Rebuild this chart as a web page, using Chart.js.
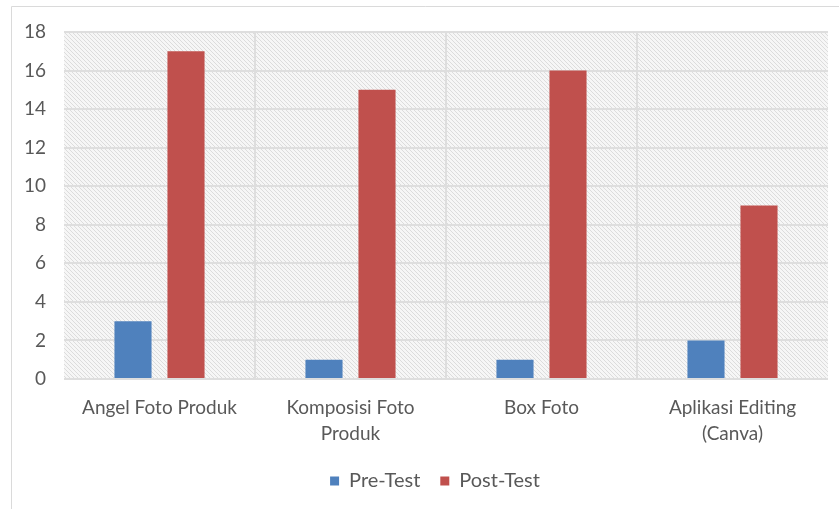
<!DOCTYPE html>
<html>
<head>
<meta charset="utf-8">
<script src="https://cdn.jsdelivr.net/npm/chart.js@4/dist/chart.umd.min.js"></script>
<style>
  html, body { margin: 0; padding: 0; background: #ffffff; }
  #wrap { width: 839px; height: 509px; position: relative; }
</style>
</head>
<body>
<div id="wrap"><canvas id="c" width="839" height="509"></canvas></div>
<script>
// Scores per topic, before and after the training
const categories = ['Angel Foto Produk', ['Komposisi Foto', 'Produk'], 'Box Foto', ['Aplikasi Editing', '(Canva)']];
const preTest = [3, 1, 1, 2];
const postTest = [17, 15, 16, 9];
const seriesNames = ['Pre-Test', 'Post-Test'];
const yTicks = { min: 0, max: 18, step: 2 };

const textColor = '#595959';
const fontFamily = 'Lato, "Open Sans", sans-serif';

// Fine diagonal hatch used as the plot-area fill
function makeHatch() {
  const t = document.createElement('canvas');
  t.width = 4; t.height = 4;
  const g = t.getContext('2d');
  g.fillStyle = '#f6f6f6';
  g.fillRect(0, 0, 4, 4);
  g.strokeStyle = '#dcdcdc';
  g.lineWidth = 1;
  g.beginPath();
  g.moveTo(-1, -1); g.lineTo(5, 5);
  g.moveTo(-1, 3); g.lineTo(1, 5);
  g.moveTo(3, -1); g.lineTo(5, 1);
  g.stroke();
  return g.createPattern(t, 'repeat');
}

const frame = {
  id: 'frame',
  afterLayout(chart) {
    // nudge the legend a little to the right of the canvas centre
    if (chart.legend) { chart.legend.left += 15; chart.legend.right += 15; }
  },
  beforeDraw(chart) {
    const ctx = chart.ctx;
    const a = chart.chartArea;
    ctx.save();
    ctx.fillStyle = '#ffffff';
    ctx.fillRect(0, 0, chart.width, chart.height);
    ctx.strokeStyle = '#dadada';
    ctx.lineWidth = 1;
    ctx.beginPath();
    ctx.moveTo(11.5, chart.height); ctx.lineTo(11.5, 6.5); ctx.lineTo(chart.width, 6.5);
    ctx.stroke();
    ctx.fillStyle = makeHatch();
    ctx.fillRect(a.left, a.top, a.right - a.left, a.bottom - a.top);
    ctx.restore();
  }
};

new Chart(document.getElementById('c'), {
  type: 'bar',
  data: {
    labels: categories,
    datasets: [
      { label: seriesNames[0], data: preTest, backgroundColor: '#4F81BD', categoryPercentage: 0.555, barPercentage: 0.7 },
      { label: seriesNames[1], data: postTest, backgroundColor: '#C0504D', categoryPercentage: 0.555, barPercentage: 0.7 }
    ]
  },
  options: {
    responsive: false,
    animation: false,
    devicePixelRatio: 1,
    layout: { padding: { top: 32, left: 12, right: 11, bottom: 8 } },
    plugins: {
      legend: {
        position: 'bottom',
        labels: {
          color: textColor,
          font: { family: fontFamily, size: 20 },
          boxWidth: 9, boxHeight: 9, padding: 20
        }
      },
      tooltip: { enabled: false }
    },
    scales: {
      x: {
        grid: {
          offset: true,
          drawTicks: false,
          // only the separators between categories, not the outer edges
          color: (c) => (c.type !== 'tick' || c.index === 0) ? 'rgba(0,0,0,0)' : '#dedede',
          lineWidth: 2
        },
        border: { display: false },
        ticks: {
          color: textColor,
          font: { family: fontFamily, size: 19, lineHeight: 1.35 },
          padding: 16,
          maxRotation: 0,
          autoSkip: false
        },
        afterFit(s) { s.height = 72; }
      },
      y: {
        min: yTicks.min,
        max: yTicks.max,
        grid: { drawTicks: false, color: '#dedede', lineWidth: 2 },
        border: { display: false },
        ticks: {
          stepSize: yTicks.step,
          color: textColor,
          font: { family: fontFamily, size: 19 },
          padding: 18
        },
        afterFit(s) { s.width = 52; }
      }
    }
  },
  plugins: [frame]
});
</script>
</body>
</html>
